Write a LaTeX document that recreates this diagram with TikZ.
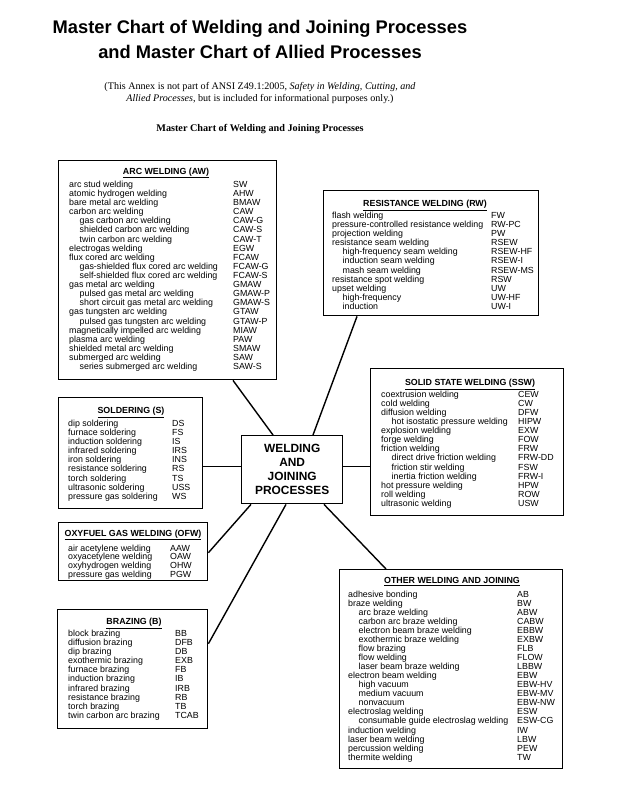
\documentclass[tikz,border=0pt]{standalone}
\usepackage{fontspec}
\setmainfont{Liberation Serif}
\newfontfamily\arialf{Liberation Sans}
\usetikzlibrary{calc}
\newcommand{\ind}{\hspace*{10.5pt}}
% #1 name, #2 x text, #3 x abbr, #4 first baseline, #5 spacing, #6 list
\newcommand{\itemlist}[6]{%
  \foreach \tx/\ab [count=\i from 0] in {#6} {
    \node[itm] (#1-t\i) at (#2, #4+\i*#5) {\tx};
    \node[itm] (#1-a\i) at (#3, #4+\i*#5) {\ab};
  }}
\begin{document}
\begin{tikzpicture}[x=1pt,y=-1pt,
  box/.style={draw, line width=1.4pt, inner sep=0pt, anchor=north west},
  conn/.style={line width=1.4pt},
  itm/.style={anchor=base west, inner sep=0pt, font=\arialf\fontsize{8.85}{10}\selectfont},
  hdr/.style={anchor=base, inner sep=0pt, font=\arialf\bfseries\fontsize{8.85}{10}\selectfont},
  ttl/.style={anchor=base, inner sep=0pt, font=\arialf\bfseries\fontsize{18.3}{22}\selectfont},
  sub/.style={anchor=base, inner sep=0pt, font=\fontsize{10.1}{12}\selectfont}]
\useasboundingbox (0,0) rectangle (624,787);
\fill[white] (0,0) rectangle (624,787);

% titles
\node[ttl] (t1) at (260,33.3) {Master Chart of Welding and Joining Processes};
\node[ttl] (t2) at (260,58.3) {and Master Chart of Allied Processes};
\node[sub] (s1) at (260,89.3) {(This Annex is not part of ANSI Z49.1:2005, \textit{Safety in Welding, Cutting, and}};
\node[sub] (s2) at (260,101.7) {\textit{Allied Processes}, but is included for informational purposes only.)};
\node[sub, font=\bfseries\fontsize{10.2}{12}\selectfont] (s3) at (260,131.7) {Master Chart of Welding and Joining Processes};

% center
\node[box, minimum width=101pt, minimum height=68pt, align=center,
      font=\arialf\bfseries\fontsize{11.9}{14}\selectfont] (ctr) at (241,435) {WELDING\\AND\\JOINING\\PROCESSES};

% boxes
\node[box, minimum width=218pt, minimum height=219pt] (aw) at (58,160) {};
\node[box, minimum width=215pt, minimum height=125pt] (rw) at (323,190) {};
\node[box, minimum width=193pt, minimum height=147pt] (ssw) at (370,368) {};
\node[box, minimum width=144pt, minimum height=111pt] (s) at (58,397) {};
\node[box, minimum width=149pt, minimum height=58pt] (ofw) at (58,522) {};
\node[box, minimum width=150pt, minimum height=119pt] (b) at (57,609) {};
\node[box, minimum width=223pt, minimum height=199pt] (owj) at (339,569) {};

% connectors
\coordinate (c3) at ([yshift=3pt]ctr.east);
\coordinate (c4) at ([yshift=3pt]ctr.west);
\draw[conn] (c3) -- (c3 -| ssw.west);
\draw[conn] (c4) -- (c4 -| s.east);
\draw[conn] ([xshift=32pt]ctr.north west) -- ([xshift=175pt]aw.south west);
\draw[conn] ([xshift=72pt]ctr.north west) -- ([xshift=34pt]rw.south west);
\draw[conn] ([xshift=10pt]ctr.south west) -- ([yshift=-1pt]ofw.east);
\draw[conn] ([xshift=45pt]ctr.south west) -- ([yshift=25.5pt]b.east);
\draw[conn] ([xshift=83pt]ctr.south west) -- ([xshift=47pt]owj.north west);

% ARC WELDING
\node[hdr] (aw-h) at (166,174) {\underline{ARC WELDING (AW)}};
\itemlist{aw}{69}{233}{187.3}{9.12}{arc stud welding/SW, atomic hydrogen welding/AHW, bare metal arc welding/BMAW, carbon arc welding/CAW, \ind gas carbon arc welding/CAW-G, \ind shielded carbon arc welding/CAW-S, \ind twin carbon arc welding/CAW-T, electrogas welding/EGW, flux cored arc welding/FCAW, \ind gas-shielded flux cored arc welding/FCAW-G, \ind self-shielded flux cored arc welding/FCAW-S, gas metal arc welding/GMAW, \ind pulsed gas metal arc welding/GMAW-P, \ind short circuit gas metal arc welding/GMAW-S, gas tungsten arc welding/GTAW, \ind pulsed gas tungsten arc welding/GTAW-P, magnetically impelled arc welding/MIAW, plasma arc welding/PAW, shielded metal arc welding/SMAW, submerged arc welding/SAW, \ind series submerged arc welding/SAW-S}

% RESISTANCE WELDING
\node[hdr] (rw-h) at (425,206.5) {\underline{RESISTANCE WELDING (RW)}};
\itemlist{rw}{332}{491}{218}{9.17}{flash welding/FW, pressure-controlled resistance welding/RW-PC, projection welding/PW, resistance seam welding/RSEW, \ind high-frequency seam welding/RSEW-HF, \ind induction seam welding/RSEW-I, \ind mash seam welding/RSEW-MS, resistance spot welding/RSW, upset welding/UW, \ind high-frequency/UW-HF, \ind induction/UW-I}

% SOLID STATE WELDING
\node[hdr] (ssw-h) at (470,385.5) {\underline{SOLID STATE WELDING (SSW)}};
\itemlist{ssw}{381}{518}{397}{9.14}{coextrusion welding/CEW, cold welding/CW, diffusion welding/DFW, \ind hot isostatic pressure welding/HIPW, explosion welding/EXW, forge welding/FOW, friction welding/FRW, \ind direct drive friction welding/FRW-DD, \ind friction stir welding/FSW, \ind inertia friction welding/FRW-I, hot pressure welding/HPW, roll welding/ROW, ultrasonic welding/USW}

% SOLDERING
\node[hdr] (s-h) at (131,413.5) {\underline{SOLDERING (S)}};
\itemlist{s}{68}{172}{426}{9.17}{dip soldering/DS, furnace soldering/FS, induction soldering/IS, infrared soldering/IRS, iron soldering/INS, resistance soldering/RS, torch soldering/TS, ultrasonic soldering/USS, pressure gas soldering/WS}

% OXYFUEL GAS WELDING
\node[hdr] (ofw-h) at (133,536.3) {\underline{OXYFUEL GAS WELDING (OFW)}};
\itemlist{ofw}{68}{170}{551}{8.7}{air acetylene welding/AAW, oxyacetylene welding/OAW, oxyhydrogen welding/OHW, pressure gas welding/PGW}

% BRAZING
\node[hdr] (b-h) at (134,624.5) {\underline{BRAZING (B)}};
\itemlist{b}{68}{175}{636}{9.19}{block brazing/BB, diffusion brazing/DFB, dip brazing/DB, exothermic brazing/EXB, furnace brazing/FB, induction brazing/IB, infrared brazing/IRB, resistance brazing/RB, torch brazing/TB, twin carbon arc brazing/TCAB}

% OTHER WELDING AND JOINING
\node[hdr] (owj-h) at (452,583.5) {\underline{OTHER WELDING AND JOINING}};
\itemlist{owj}{348}{517}{597}{9.07}{adhesive bonding/AB, braze welding/BW, \ind arc braze welding/ABW, \ind carbon arc braze welding/CABW, \ind electron beam braze welding/EBBW, \ind exothermic braze welding/EXBW, \ind flow brazing/FLB, \ind flow welding/FLOW, \ind laser beam braze welding/LBBW, electron beam welding/EBW, \ind high vacuum/EBW-HV, \ind medium vacuum/EBW-MV, \ind nonvacuum/EBW-NW, electroslag welding/ESW, \ind consumable guide electroslag welding/ESW-CG, induction welding/IW, laser beam welding/LBW, percussion welding/PEW, thermite welding/TW}
\end{tikzpicture}
\end{document}
